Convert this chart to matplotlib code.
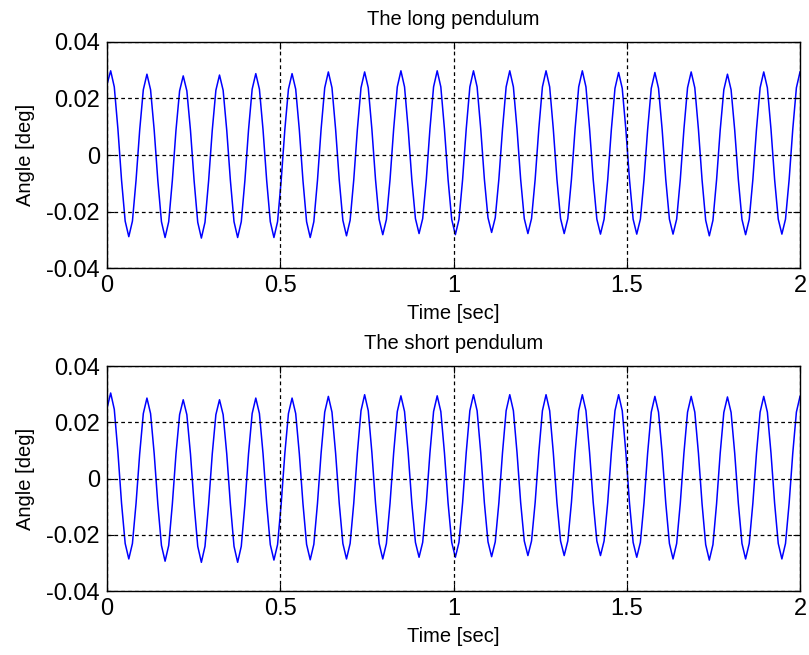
import numpy as np
import matplotlib
matplotlib.use("Agg")
import matplotlib.pyplot as plt

plt.rcParams["font.family"] = ["Liberation Sans", "DejaVu Sans"]

# pendulum angles, sampled evenly over 0..2 s, in units of 1e-3 deg
angle_long = [
    25.0,
    29.8, 24.1, 9.2, -8.9, -23.4, -28.9, -23.4, -8.9, 8.8, 23.1,
    28.6, 23.1, 8.8, -9.0, -23.6, -29.2, -23.6, -9.0, 8.7, 22.7,
    28.0, 22.7, 8.7, -9.1, -23.8, -29.4, -23.8, -9.1, 8.7, 22.9,
    28.3, 22.9, 8.7, -9.0, -23.6, -29.2, -23.6, -9.0, 8.9, 23.3,
    28.8, 23.3, 8.9, -9.0, -23.6, -29.2, -23.6, -9.0, 8.9, 23.3,
    28.8, 23.3, 8.9, -9.0, -23.6, -29.2, -23.6, -9.0, 9.1, 23.8,
    29.4, 23.8, 9.1, -8.8, -23.1, -28.6, -23.1, -8.8, 9.1, 23.8,
    29.4, 23.8, 9.1, -8.7, -22.8, -28.2, -22.8, -8.7, 9.2, 24.1,
    29.8, 24.1, 9.2, -8.6, -22.5, -27.8, -22.5, -8.6, 9.2, 24.1,
    29.8, 24.1, 9.2, -8.7, -22.8, -28.2, -22.8, -8.7, 9.2, 24.1,
    29.8, 24.1, 9.2, -8.5, -22.2, -27.4, -22.2, -8.5, 9.2, 24.1,
    29.8, 24.1, 9.2, -8.6, -22.5, -27.8, -22.5, -8.6, 9.2, 24.1,
    29.8, 24.1, 9.2, -8.6, -22.5, -27.8, -22.5, -8.6, 9.2, 24.1,
    29.8, 24.1, 9.2, -8.7, -22.7, -28.0, -22.7, -8.7, 9.0, 23.6,
    29.2, 23.6, 9.0, -8.7, -22.7, -28.0, -22.7, -8.7, 9.0, 23.6,
    29.2, 23.6, 9.0, -8.7, -22.7, -28.0, -22.7, -8.7, 9.1, 23.8,
    29.4, 23.8, 9.1, -8.8, -23.1, -28.6, -23.1, -8.8, 8.8, 23.1,
    28.6, 23.1, 8.8, -8.7, -22.8, -28.2, -22.8, -8.7, 9.1, 23.8,
    29.4, 23.8, 9.1, -8.7, -22.7, -28.0, -22.7, -8.7, 9.1, 23.8,
    29.4,
]

angle_short = [
    25.0,
    30.4, 24.6, 9.4, -8.8, -23.1, -28.6, -23.1, -8.8, 8.8, 23.1,
    28.6, 23.1, 8.8, -9.1, -23.8, -29.4, -23.8, -9.1, 8.7, 22.7,
    28.0, 22.7, 8.7, -9.2, -24.1, -29.8, -24.1, -9.2, 8.7, 22.7,
    28.0, 22.7, 8.7, -9.2, -24.1, -29.8, -24.1, -9.2, 8.8, 23.1,
    28.6, 23.1, 8.8, -9.0, -23.5, -29.0, -23.5, -9.0, 8.8, 23.1,
    28.6, 23.1, 8.8, -8.9, -23.4, -28.9, -23.4, -8.9, 9.0, 23.6,
    29.2, 23.6, 9.0, -8.8, -23.1, -28.6, -23.1, -8.8, 9.2, 24.1,
    29.8, 24.1, 9.2, -8.8, -23.1, -28.6, -23.1, -8.8, 9.1, 23.8,
    29.4, 23.8, 9.1, -8.7, -22.7, -28.0, -22.7, -8.7, 9.1, 23.8,
    29.4, 23.8, 9.1, -8.7, -22.7, -28.0, -22.7, -8.7, 9.2, 24.1,
    29.8, 24.1, 9.2, -8.6, -22.5, -27.8, -22.5, -8.6, 9.2, 24.1,
    29.8, 24.1, 9.2, -8.5, -22.2, -27.4, -22.2, -8.5, 9.2, 24.1,
    29.8, 24.1, 9.2, -8.5, -22.2, -27.4, -22.2, -8.5, 9.2, 24.1,
    29.8, 24.1, 9.2, -8.5, -22.2, -27.4, -22.2, -8.5, 9.2, 24.1,
    29.8, 24.1, 9.2, -8.7, -22.7, -28.0, -22.7, -8.7, 9.0, 23.6,
    29.2, 23.6, 9.0, -8.8, -23.1, -28.6, -23.1, -8.8, 9.0, 23.6,
    29.2, 23.6, 9.0, -9.0, -23.5, -29.0, -23.5, -9.0, 9.0, 23.5,
    29.0, 23.5, 9.0, -8.8, -23.1, -28.6, -23.1, -8.8, 9.0, 23.6,
    29.2, 23.6, 9.0, -8.8, -23.1, -28.6, -23.1, -8.8, 9.0, 23.6,
    29.2,
]

t_start, t_end = 0.0, 2.0
titles = ["The long pendulum", "The short pendulum"]
xticks = [0, 0.5, 1, 1.5, 2]
xtick_labels = ["0", "0.5", "1", "1.5", "2"]
yticks = [-0.04, -0.02, 0, 0.02, 0.04]
ytick_labels = ["-0.04", "-0.02", "0", "0.02", "0.04"]

fig = plt.figure(figsize=(8.09, 6.55), dpi=100)
boxes = [
    [0.1323, 0.5908, 0.8566, 0.3451],
    [0.1323, 0.0977, 0.8566, 0.3435],
]

for box, series, title in zip(boxes, [angle_long, angle_short], titles):
    ax = fig.add_axes(box)
    y = np.array(series) * 1e-3
    t = np.linspace(t_start, t_end, len(y))
    ax.plot(t, y, color="#0000ff", lw=1.1, zorder=2,
            solid_joinstyle="round")
    ax.set_xlim(t_start, t_end)
    ax.set_ylim(-0.04, 0.04)
    ax.set_xticks(xticks)
    ax.set_xticklabels(xtick_labels)
    ax.set_yticks(yticks)
    ax.set_yticklabels(ytick_labels)
    ax.tick_params(direction="in", length=5, width=0.8, labelsize=17,
                   top=True, right=True, pad=5)
    ax.set_axisbelow(False)
    ax.grid(True, color="black", ls=(0, (3, 2.5)), lw=0.9)
    for s in ax.spines.values():
        s.set_linewidth(1.0)
    ax.set_title(title, fontsize=14.5, pad=12)
    ax.set_xlabel("Time [sec]", fontsize=14.5, labelpad=5)
    ax.set_ylabel("Angle [deg]", fontsize=14.5, labelpad=8)

fig.savefig("out.png", dpi=100)
